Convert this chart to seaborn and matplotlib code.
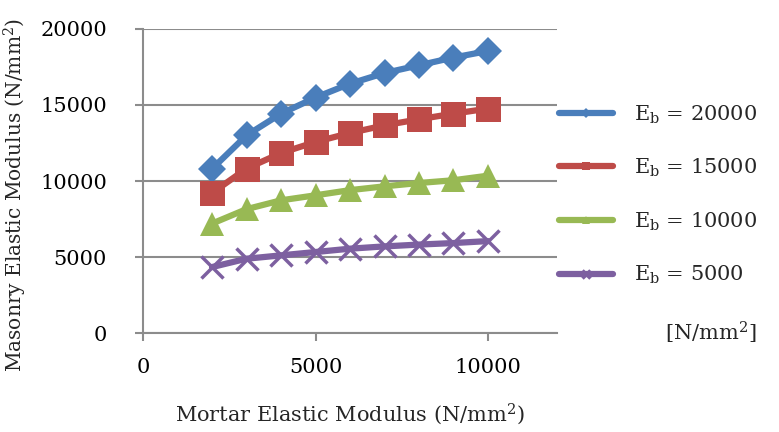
import numpy as np
import pandas as pd
import matplotlib.pyplot as plt
import seaborn as sns

# Datos
mortar_e = [2000, 3000, 4000, 5000, 6000, 7000, 8000, 9000, 10000]
eb_20000 = [10800, 13000, 14430, 15490, 16400, 17100, 17610, 18120, 18550]
eb_15000 = [9210, 10820, 11840, 12570, 13160, 13660, 14060, 14430, 14760]
eb_10000 = [7200, 8150, 8730, 9060, 9400, 9650, 9870, 10050, 10350]
eb_5000 = [4340, 4890, 5110, 5330, 5550, 5700, 5820, 5920, 6050]

series_labels = [r'$\mathrm{E_b}$ = 20000', r'$\mathrm{E_b}$ = 15000',
                 r'$\mathrm{E_b}$ = 10000', r'$\mathrm{E_b}$ = 5000']
series_values = [eb_20000, eb_15000, eb_10000, eb_5000]
colors = ['#4A7EBB', '#BE4B48', '#98B954', '#7D60A0']
markers = ['D', 's', '^', 'x']
marker_sizes = [14, 18, 17, 16]

sns.set_style('white')
plt.rcParams['font.family'] = ['DejaVu Serif']
plt.rcParams['mathtext.fontset'] = 'dejavuserif'

fig = plt.figure(figsize=(7.79, 4.32), dpi=100)
ax = fig.add_axes([0.1836, 0.229, 0.5314, 0.704])

for label, vals, c, m, ms in zip(series_labels, series_values, colors, markers, marker_sizes):
    df = pd.DataFrame({'x': mortar_e, 'y': vals})
    sns.lineplot(data=df, x='x', y='y', ax=ax, color=c, marker=m, markersize=ms,
                 linewidth=4.5, markeredgewidth=2.5 if m == 'x' else 0,
                 markeredgecolor=c, label=label)

ax.set_xlim(0, 12000)
ax.set_ylim(0, 20000)
ax.set_xticks([0, 5000, 10000])
ax.set_yticks([0, 5000, 10000, 15000, 20000])
ax.yaxis.grid(True, color='#8c8c8c', linewidth=1.5)
ax.xaxis.grid(False)
for s in ['top', 'right']:
    ax.spines[s].set_visible(False)
for s in ['left', 'bottom']:
    ax.spines[s].set_color('#8c8c8c')
    ax.spines[s].set_linewidth(1.5)
ax.tick_params(axis='both', colors='#8c8c8c', length=6, width=1.5,
               labelsize=15, labelcolor='black', direction='out')
ax.tick_params(axis='y', left=True, pad=20)
ax.tick_params(axis='x', bottom=True, pad=12)

ax.set_xlabel(r'Mortar Elastic Modulus (N/mm$^2$)', fontsize=15)
ax.set_ylabel(r'Masonry Elastic Modulus (N/mm$^2$)', fontsize=14.5)
ax.xaxis.set_label_coords(0.5, -0.225)
ax.yaxis.set_label_coords(-0.275, 0.455)

ax.legend(loc='center left', bbox_to_anchor=(0.96, 0.455), frameon=False,
          fontsize=15, markerscale=0.35, handlelength=2.6, handletextpad=1.0,
          labelspacing=1.5)

fig.text(0.912, 0.23, r'[N/mm$^2$]', fontsize=15, ha='center', va='center')

plt.savefig('out.png', dpi=100)
plt.close()
